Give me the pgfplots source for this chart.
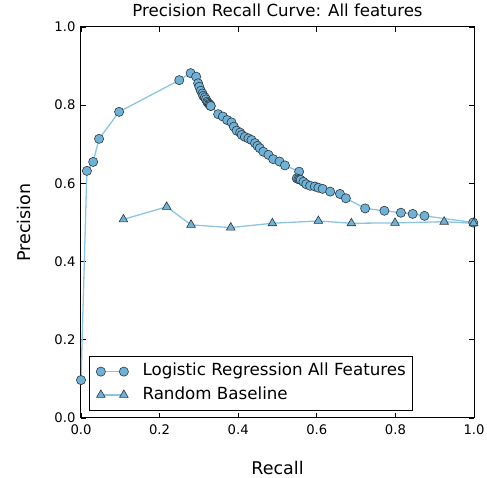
\documentclass[border=0pt]{standalone}
\usepackage{pgfplots}
\pgfplotsset{compat=1.18}
\usepackage{fontspec}
\setmainfont{DejaVu Sans}
\definecolor{lrfill}{RGB}{110,178,215}
\definecolor{lrline}{RGB}{140,196,226}
\definecolor{mkedge}{RGB}{45,55,65}
\begin{document}
\begin{tikzpicture}
\useasboundingbox (-81pt,-60pt) rectangle (406pt,418pt);
\begin{axis}[
  at={(0,0)}, anchor=south west,
  scale only axis, width=393pt, height=391pt,
  xmin=0, xmax=1, ymin=0, ymax=1,
  xtick={0,0.2,0.4,0.6,0.8,1}, ytick={0,0.2,0.4,0.6,0.8,1},
  /pgf/number format/assume math mode=true,
  /pgf/number format/fixed, /pgf/number format/fixed zerofill, /pgf/number format/precision=1,
  tick label style={font=\fontsize{13.2}{15}\selectfont},
  xticklabel style={yshift=-3pt},
  yticklabel style={xshift=-2pt},
  label style={font=\fontsize{17.5}{20}\selectfont},
  title style={font=\fontsize{16.6}{19}\selectfont, at={(axis description cs:0.5,1.028)}, anchor=center},
  title={Precision Recall Curve: All features},
  xlabel={Recall}, xlabel style={at={(axis description cs:0.5,-0.128)}, anchor=center},
  ylabel={Precision}, ylabel style={at={(axis description cs:-0.144,0.5)}, anchor=center},
  axis line style={line width=1pt},
  tick style={black, line width=0.7pt}, major tick length=5pt,
  tick align=inside,
  legend style={at={(axis description cs:0.02,0.019)}, anchor=south west,
    font=\fontsize{16.7}{19}\selectfont, draw=black, line width=0.8pt,
    nodes={inner sep=0pt, text height=12pt, text depth=3.5pt},
    row sep=7.8pt, inner xsep=7pt, inner ysep=7.5pt},
  legend cell align=left,
  legend image code/.code={\draw[#1,mark repeat=1,mark phase=1] plot coordinates {(0pt,0pt) (23pt,0pt)};
    \path (41pt,0pt);},
]
\addplot[color=lrline, line width=1.3pt, mark=*, mark size=4.6pt,
  mark options={fill=lrfill, draw=mkedge, line width=0.6pt, solid}] coordinates {
(0.000,0.097) (0.015,0.632) (0.031,0.655) (0.046,0.714) (0.097,0.783)
(0.250,0.864) (0.279,0.882) (0.293,0.873) (0.298,0.856) (0.301,0.847)
(0.305,0.837) (0.309,0.830) (0.311,0.824) (0.315,0.820) (0.318,0.815)
(0.321,0.809) (0.323,0.806) (0.326,0.803) (0.328,0.801) (0.330,0.798)
(0.330,0.798) (0.349,0.777) (0.361,0.771) (0.372,0.762) (0.383,0.756)
(0.389,0.745) (0.396,0.735) (0.405,0.730) (0.409,0.724) (0.417,0.719)
(0.426,0.715) (0.434,0.711) (0.443,0.703) (0.449,0.696) (0.455,0.690)
(0.464,0.681) (0.477,0.673) (0.489,0.662) (0.505,0.656) (0.519,0.646)
(0.555,0.630) (0.549,0.613) (0.553,0.611) (0.556,0.610) (0.559,0.609)
(0.566,0.604) (0.573,0.598) (0.583,0.594) (0.595,0.592) (0.604,0.589)
(0.615,0.586) (0.634,0.579) (0.659,0.573) (0.674,0.562) (0.723,0.536)
(0.772,0.530) (0.814,0.525) (0.844,0.522) (0.874,0.517) (0.998,0.500)
};
\addlegendentry{Logistic Regression All Features}
\addplot[color=lrline, line width=1.3pt, mark=triangle*, mark size=5pt,
  mark options={fill=lrfill, draw=mkedge, line width=0.6pt, solid}] coordinates {
(0.108,0.508) (0.218,0.540) (0.280,0.494) (0.381,0.487) (0.487,0.498)
(0.604,0.504) (0.688,0.498) (0.799,0.499) (0.924,0.502) (0.999,0.498)
};
\addlegendentry{Random Baseline}
\end{axis}
\end{tikzpicture}
\end{document}
